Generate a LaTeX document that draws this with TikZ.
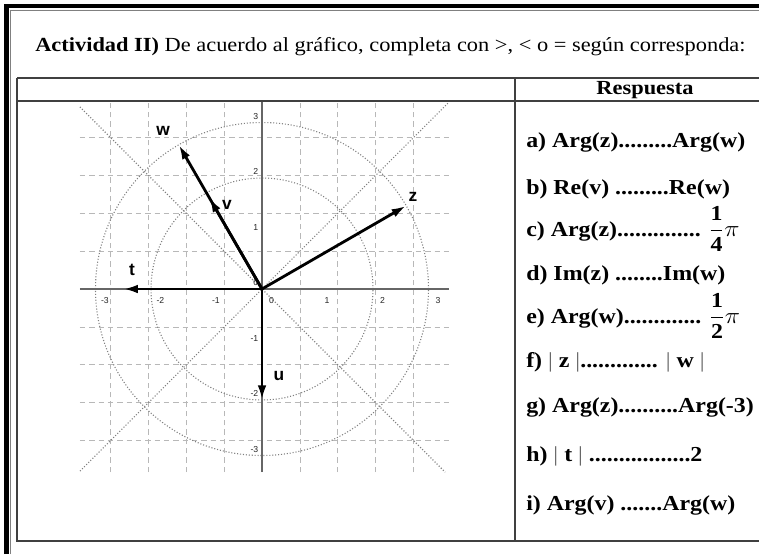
\documentclass[tikz,border=0pt]{standalone}
\usepackage{fontspec}
\usepackage{graphicx}
\setmainfont{Liberation Serif}
\setsansfont{Liberation Sans}
\usetikzlibrary{arrows.meta}
\newcommand{\hs}[1]{\scalebox{1.12}[1]{#1}}
\newcommand{\gbar}{{\mdseries\color{black!60}|}}
\begin{document}
\begin{tikzpicture}[x=0.75pt,y=-0.75pt,
  tline/.style={draw=black!75, line width=1.1pt},
  ans/.style={anchor=base west, inner sep=0pt, font=\fontsize{16}{19}\selectfont\bfseries},
  gridl/.style={draw=black!28, line width=0.6pt, dash pattern=on 4pt off 3pt},
  dotc/.style={draw=black!50, line width=0.8pt, dash pattern=on 0.8pt off 1.4pt},
  axisl/.style={draw=black!60, line width=1pt},
  vec/.style={draw=black, line width=2.1pt, -{Latex[length=11pt,width=6.5pt]}},
  vlab/.style={font=\sffamily\bfseries\fontsize{13}{15}\selectfont, inner sep=0pt},
  tick/.style={font=\sffamily\fontsize{6.5}{7}\selectfont, text=black!85, inner sep=0.5pt}]
\useasboundingbox (0,0) rectangle (759,554);
\fill[white] (0,0) rectangle (759,554);
% outer frame
\draw[line width=3.4pt] (6.5,554) -- (6.5,6) -- (759,6);
\draw[black!50, line width=0.7pt] (10.5,554) -- (10.5,10.5) -- (759,10.5);
% title
\node[anchor=base west, inner sep=0pt, font=\fontsize{15}{18}\selectfont] (title) at (35,51)
  {\hs{\textbf{Actividad II)} De acuerdo al gráfico, completa con >, < o = según corresponda:}};
% table
\draw[tline, line width=1.6pt] (17,78) -- (759,78);
\draw[tline] (17,101) -- (759,101);
\draw[tline] (17,78) -- (17,541) -- (759,541);
\draw[tline] (515,78) -- (515,541);
\node[font=\fontsize{15}{18}\selectfont\bfseries, inner sep=0pt, anchor=base] (resp) at (645,94) {\hs{Respuesta}};
% graph
\coordinate (O) at (262,289);
\begin{scope}[shift={(O)}, x=41.625pt, y=41.625pt]
  \draw[gridl] (-3.28,-3.3) grid (3.37,3.37);
  \draw[dotc] (0,0) circle (2);
  \draw[dotc] (0,0) circle (3);
  \draw[dotc] (-3.28,3.28) -- (3.3,-3.3);
  \draw[dotc] (-3.28,-3.28) -- (3.37,3.37);
  \draw[axisl] (-3.28,0) -- (3.37,0);
  \draw[axisl] (0,-3.3) -- (0,3.37);
  \foreach \k in {-3,...,3} {
    \node[tick] at (\k+0.17,-0.21) {\k};
    \node[tick, anchor=east] at (-0.05,\k+0.11) {\k};
  }
  \coordinate (W) at (120:3);
  \coordinate (V) at (120:1.9);
  \coordinate (Z) at (30:3);
  \coordinate (T) at (-2.5,0);
  \coordinate (U) at (0,-2);
\end{scope}
\draw[vec] (O) -- (W);
\draw[vec] (O) -- (V);
\draw[vec] (O) -- (Z);
\draw[vec] (O) -- (T);
\draw[vec] (O) -- (U);
\node[vlab] (lw) at (163,131) {w};
\node[vlab] (lv) at (227,205) {v};
\node[vlab] (lt) at (132,270) {t};
\node[vlab] (lz) at (413,197) {z};
\node[vlab] (lu) at (279,376) {u};
% answers
\node[ans] (a) at (526,147) {\hs{a) Arg(z).........Arg(w)}};
\node[ans] (b) at (526,194) {\hs{b) Re(v) .........Re(w)}};
\node[ans] (c) at (526,236) {\hs{c) Arg(z).............. $\displaystyle\frac{\textbf{1}}{\textbf{4}}\pi$}};
\node[ans] (d) at (526,280) {\hs{d) Im(z) ........Im(w)}};
\node[ans] (e) at (526,323) {\hs{e) Arg(w)............. $\displaystyle\frac{\textbf{1}}{\textbf{2}}\pi$}};
\node[ans] (f) at (526,367) {\hs{f) \gbar{} z \gbar............. \gbar{} w \gbar}};
\node[ans] (g) at (526,412) {\hs{g) Arg(z)..........Arg(-3)}};
\node[ans] (h) at (526,461) {\hs{h) \gbar{} t \gbar{} .................2}};
\node[ans] (i) at (526,510) {\hs{i) Arg(v) .......Arg(w)}};
\end{tikzpicture}
\end{document}
